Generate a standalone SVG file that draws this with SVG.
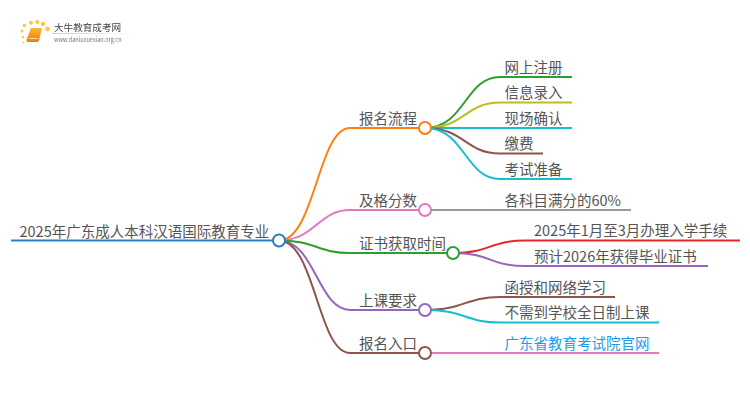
<svg xmlns="http://www.w3.org/2000/svg" width="750" height="410" viewBox="0 0 750 410">
<defs>
<linearGradient id="book" x1="0" y1="0" x2="0" y2="1"><stop offset="0" stop-color="#fbb531"/><stop offset="1" stop-color="#ee7d14"/></linearGradient>
<linearGradient id="rule" x1="0" y1="0" x2="1" y2="0"><stop offset="0" stop-color="#ccc"/><stop offset="1" stop-color="#fff"/></linearGradient>
<filter id="soft" x="-5%" y="-5%" width="110%" height="110%"><feGaussianBlur stdDeviation="0.35"/></filter>
</defs>
<style>
text{font-family:"Noto Sans CJK SC","Noto Sans",sans-serif;font-size:14.5px;fill:#555}
.c{fill:none;stroke-width:2}
.n{fill:#fff;stroke-width:2}
.dot{fill:#fbc64a}
</style>
<rect width="750" height="410" fill="#fff"/>
<g id="logo" filter="url(#soft)">
<circle class="dot" cx="23" cy="37" r="1.2"/><circle class="dot" cx="22" cy="31" r="1.5"/><circle class="dot" cx="24.500" cy="25.500" r="1.800"/><circle class="dot" cx="31" cy="22.800" r="2"/><circle class="dot" cx="37.300" cy="22" r="2.100"/><circle class="dot" cx="43" cy="24" r="2.200"/><circle class="dot" cx="47.500" cy="29" r="2.400"/><circle class="dot" cx="23.500" cy="42.500" r="1"/>
<path d="M31 28h11l-3 12.500q-.5 1.500-2 1.500h-9.500q-1.500 0-1-2z" fill="url(#book)"/>
<path d="M29 38.500h9" stroke="#fde0a0" stroke-width="1" fill="none"/>
<text x="54" y="31" style="font-size:9.600px;fill:#444">大牛教育成考网</text>
<rect x="52" y="33" width="82" height="1" fill="url(#rule)"/>
<text x="54" y="41.500" style="font-size:5.600px;fill:#777">www.daniuxuexiao.org.cn</text>
</g>
<g id="connectors">
<path class="c" stroke="#2b7fc0" stroke-width="2.500" d="M11 240.500H273"/>
<path class="c" stroke="#ff7f0e" d="M279 240.500C315 240.500 318 128 350 128H419"/>
<path class="c" stroke="#e377c2" d="M279 240.500C315 240.500 318 210 350 210H419"/>
<path class="c" stroke="#2ca02c" d="M279 240.500C315 240.500 318 253 350 253H447"/>
<path class="c" stroke="#9467bd" d="M279 240.500C315 240.500 318 310 350 310H419"/>
<path class="c" stroke="#8c564b" d="M279 240.500C315 240.500 318 353 350 353H419"/>
<path class="c" stroke="#2ca02c" d="M425 128C465 128 465 77 500 77H572"/>
<path class="c" stroke="#bcbd22" d="M425 128C465 128 465 102.500 500 102.500H572"/>
<path class="c" stroke="#17becf" d="M425 128H572"/>
<path class="c" stroke="#8c564b" d="M425 128C465 128 465 153.500 500 153.500H543"/>
<path class="c" stroke="#17becf" d="M425 128C465 128 465 179 500 179H572"/>
<path class="c" stroke="#999" d="M425 210H631"/>
<path class="c" stroke="#e8262a" d="M453 253C490 253 490 240.500 525 240.500H740"/>
<path class="c" stroke="#9467bd" d="M453 253C490 253 490 266 525 266H708"/>
<path class="c" stroke="#8c564b" d="M425 310C465 310 465 297 500 297H615"/>
<path class="c" stroke="#17becf" d="M425 310C465 310 465 322.500 500 322.500H659"/>
<path class="c" stroke="#e377c2" d="M425 353H659"/>
</g>
<g id="root"><text x="19.500" y="236.500">2025年广东成人本科汉语国际教育专业</text><circle class="n" stroke="#2b7fc0" cx="279" cy="240.500" r="6"/></g>
<g id="b1"><text x="359" y="123.500">报名流程</text><circle class="n" stroke="#ff7f0e" cx="425" cy="128" r="6"/></g>
<g id="b2"><text x="359" y="205.500">及格分数</text><circle class="n" stroke="#e377c2" cx="425" cy="210" r="6"/></g>
<g id="b3"><text x="359" y="248.500">证书获取时间</text><circle class="n" stroke="#2ca02c" cx="453" cy="253" r="6"/></g>
<g id="b4"><text x="359" y="305.500">上课要求</text><circle class="n" stroke="#9467bd" cx="425" cy="310" r="6"/></g>
<g id="b5"><text x="359" y="348.500">报名入口</text><circle class="n" stroke="#8c564b" cx="425" cy="353" r="6"/></g>
<g id="l1"><text x="504.500" y="72.500">网上注册</text></g>
<g id="l2"><text x="504.500" y="98">信息录入</text></g>
<g id="l3"><text x="504.500" y="123.500">现场确认</text></g>
<g id="l4"><text x="504.500" y="149">缴费</text></g>
<g id="l5"><text x="504.500" y="174.500">考试准备</text></g>
<g id="l6"><text x="504.500" y="205.500">各科目满分的60%</text></g>
<g id="l7"><text x="534" y="236">2025年1月至3月办理入学手续</text></g>
<g id="l8"><text x="534" y="261.500">预计2026年获得毕业证书</text></g>
<g id="l9"><text x="504.500" y="292.500">函授和网络学习</text></g>
<g id="l10"><text x="504.500" y="318">不需到学校全日制上课</text></g>
<g id="l11"><text x="504.500" y="348.500" style="fill:#1a9cf0">广东省教育考试院官网</text></g>
</svg>
